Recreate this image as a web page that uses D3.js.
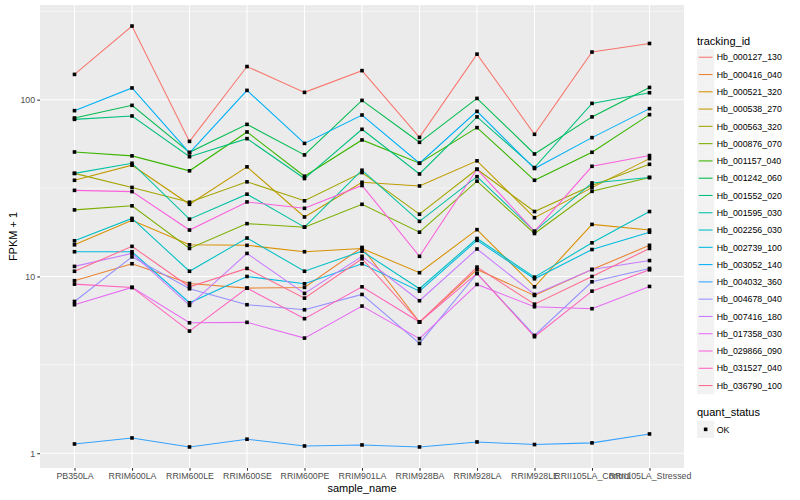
<!DOCTYPE html>
<html lang="en">
<head>
<meta charset="utf-8">
<title>FPKM + 1 by sample</title>
<script src="https://cdn.jsdelivr.net/npm/d3@7"></script>
<style>
  body { margin: 0; background: #fff; }
  text { font-family: "Liberation Sans", Arial, sans-serif; }
</style>
</head>
<body>
<script>
// data (FPKM + 1, one list per tracking_id, same order as samples)
var samples = ["PB350LA", "RRIM600LA", "RRIM600LE", "RRIM600SE", "RRIM600PE", "RRIM901LA",
               "RRIM928BA", "RRIM928LA", "RRIM928LE", "RRII105LA_Control", "RRII105LA_Stressed"];

var trackingIds = ["Hb_000127_130", "Hb_000416_040", "Hb_000521_320", "Hb_000538_270", "Hb_000563_320",
                   "Hb_000876_070", "Hb_001157_040", "Hb_001242_060", "Hb_001552_020", "Hb_001595_030",
                   "Hb_002256_030", "Hb_002739_100", "Hb_003052_140", "Hb_004032_360", "Hb_004678_040",
                   "Hb_007416_180", "Hb_017358_030", "Hb_029866_090", "Hb_031527_040", "Hb_036790_100"];

var fpkm = [
  [139, 261, 58.1, 154, 110, 146, 61.2, 181, 63.7, 186, 208],
  [9.46, 11.8, 9.13, 8.59, 8.67, 14.6, 5.52, 10.95, 7.81, 10.95, 15.0],
  [15.1, 20.8, 15.1, 15.0, 13.8, 14.4, 10.5, 18.4, 8.74, 19.7, 18.3],
  [35.0, 42.6, 25.6, 41.7, 21.7, 34.1, 32.5, 45.1, 21.5, 31.8, 46.4],
  [38.3, 31.9, 26.3, 34.3, 26.8, 38.7, 22.5, 40.4, 23.3, 32.7, 43.1],
  [23.8, 25.1, 14.4, 19.9, 19.0, 25.6, 17.8, 34.6, 17.5, 30.3, 36.3],
  [50.6, 48.1, 39.6, 65.7, 36.9, 59.2, 43.7, 69.5, 35.0, 50.4, 82.3],
  [78.8, 92.9, 50.4, 72.5, 48.7, 99.1, 57.4, 101.7, 49.3, 79.9, 117.3],
  [77.4, 80.9, 47.6, 60.2, 35.8, 68.0, 38.0, 79.9, 41.3, 95.3, 109.5],
  [38.3, 43.7, 21.1, 29.2, 19.0, 39.9, 20.5, 36.7, 18.0, 33.8, 36.3],
  [15.9, 21.3, 10.7, 16.5, 10.7, 13.9, 8.52, 16.4, 9.91, 15.5, 23.3],
  [13.8, 13.8, 7.10, 10.0, 9.09, 11.8, 8.26, 16.0, 9.70, 14.2, 17.8],
  [86.7, 116.5, 50.0, 112.9, 56.6, 81.9, 43.7, 85.9, 40.8, 61.0, 89.0],
  [1.128, 1.220, 1.085, 1.200, 1.099, 1.114, 1.085, 1.158, 1.120, 1.144, 1.285],
  [7.22, 12.9, 8.52, 6.92, 6.48, 7.91, 4.18, 10.4, 4.64, 9.33, 11.1],
  [11.4, 13.5, 6.86, 13.5, 8.02, 13.0, 7.29, 14.3, 7.91, 10.95, 12.3],
  [6.92, 8.67, 5.47, 5.50, 4.48, 6.80, 4.45, 9.01, 6.74, 6.57, 8.78],
  [30.7, 30.2, 18.3, 26.4, 24.3, 32.7, 13.0, 40.4, 18.0, 42.0, 48.3],
  [9.05, 8.67, 4.91, 8.59, 5.77, 8.74, 5.52, 10.4, 4.56, 8.26, 10.9],
  [10.7, 14.8, 8.74, 11.1, 7.54, 12.6, 5.52, 11.3, 6.97, 10.0, 14.4]
];

var yTicks = [1, 10, 100];
var yMinor = [Math.sqrt(10), Math.sqrt(1000), Math.sqrt(100000)];

// ggplot default hue palette for 20 groups
var palette = ["#F8766D", "#EA8331", "#D89000", "#C09B00", "#A3A500", "#7CAE00", "#39B600", "#00BB4E",
               "#00BF7D", "#00C1A3", "#00BFC4", "#00BAE0", "#00B0F6", "#35A2FF", "#9590FF", "#C77CFF",
               "#E76BF3", "#FA62DB", "#FF62BC", "#FF6C91"];

var w = 800, h = 500;
var margin = {left: 40, right: 116, top: 5, bottom: 32};

var svg = d3.select("body").append("svg")
    .attr("width", w)
    .attr("height", h);

var x = d3.scalePoint()
    .domain(samples)
    .range([margin.left, w - margin.right])
    .padding(0.6);

// log scale with ggplot's 5% expansion
var all = d3.merge(fpkm);
var lo = Math.log10(d3.min(all)), hi = Math.log10(d3.max(all));
var pad = (hi - lo) * 0.05;
var y = d3.scaleLog()
    .domain([Math.pow(10, lo - pad), Math.pow(10, hi + pad)])
    .range([h - margin.bottom, margin.top]);

var color = d3.scaleOrdinal().domain(trackingIds).range(palette);

// panel
svg.append("rect")
    .attr("x", margin.left)
    .attr("y", margin.top)
    .attr("width", w - margin.right - margin.left)
    .attr("height", h - margin.bottom - margin.top)
    .attr("fill", "#EBEBEB");

svg.append("g").selectAll("line")
    .data(yMinor)
    .enter().append("line")
    .attr("x1", margin.left).attr("x2", w - margin.right)
    .attr("y1", function(d) { return y(d); })
    .attr("y2", function(d) { return y(d); })
    .attr("stroke", "#fff").attr("stroke-width", 0.53);

svg.append("g").selectAll("line")
    .data(yTicks)
    .enter().append("line")
    .attr("x1", margin.left).attr("x2", w - margin.right)
    .attr("y1", function(d) { return y(d); })
    .attr("y2", function(d) { return y(d); })
    .attr("stroke", "#fff").attr("stroke-width", 1.07);

svg.append("g").selectAll("line")
    .data(samples)
    .enter().append("line")
    .attr("x1", function(d) { return x(d); })
    .attr("x2", function(d) { return x(d); })
    .attr("y1", margin.top).attr("y2", h - margin.bottom)
    .attr("stroke", "#fff").attr("stroke-width", 1.07);

// lines
var line = d3.line()
    .x(function(d, i) { return x(samples[i]); })
    .y(function(d) { return y(d); });

svg.append("g").selectAll("path")
    .data(fpkm)
    .enter().append("path")
    .attr("d", line)
    .attr("fill", "none")
    .attr("stroke", function(d, i) { return color(trackingIds[i]); })
    .attr("stroke-width", 1.07);

// points
var pts = [];
fpkm.forEach(function(s) {
    s.forEach(function(v, j) { pts.push({s: samples[j], v: v}); });
});
var ps = 3.6;
svg.append("g").selectAll("rect")
    .data(pts)
    .enter().append("rect")
    .attr("x", function(d) { return x(d.s) - ps / 2; })
    .attr("y", function(d) { return y(d.v) - ps / 2; })
    .attr("width", ps).attr("height", ps)
    .attr("fill", "#000");

// axes
var yAxis = svg.append("g")
    .attr("transform", "translate(" + margin.left + ",0)")
    .call(d3.axisLeft(y).tickValues(yTicks).tickFormat(d3.format("d")).tickSize(2.74).tickPadding(2.2));
var xAxis = svg.append("g")
    .attr("transform", "translate(0," + (h - margin.bottom) + ")")
    .call(d3.axisBottom(x).tickSize(2.74).tickPadding(2.2));

[yAxis, xAxis].forEach(function(a) {
    a.select(".domain").remove();
    a.selectAll(".tick line").attr("stroke", "#333333").attr("stroke-width", 1.07);
    a.selectAll(".tick text").attr("fill", "#4D4D4D").style("font-size", "8.8px");
});

svg.append("text")
    .attr("x", (margin.left + w - margin.right) / 2)
    .attr("y", 492)
    .attr("text-anchor", "middle")
    .style("font-size", "11px")
    .text("sample_name");

svg.append("text")
    .attr("transform", "translate(17," + ((margin.top + h - margin.bottom) / 2) + ") rotate(-90)")
    .attr("text-anchor", "middle")
    .style("font-size", "11px")
    .text("FPKM + 1");

// legend: tracking_id
var lx = 697, ly = 48.6, key = 17.28;
var legend = svg.append("g");
legend.append("text")
    .attr("x", lx).attr("y", 44.5)
    .style("font-size", "11px")
    .text("tracking_id");

var items = legend.selectAll("g.item")
    .data(trackingIds)
    .enter().append("g")
    .attr("class", "item")
    .attr("transform", function(d, i) { return "translate(" + lx + "," + (ly + i * key) + ")"; });

items.append("rect")
    .attr("width", key).attr("height", key)
    .attr("fill", "#F2F2F2");
items.append("line")
    .attr("x1", 1.7).attr("x2", key - 1.7)
    .attr("y1", key / 2).attr("y2", key / 2)
    .attr("stroke", function(d) { return color(d); })
    .attr("stroke-width", 1.07);
items.append("text")
    .attr("x", key + 2.5).attr("y", key / 2 + 3.2)
    .style("font-size", "8.8px")
    .text(function(d) { return d; });

// legend: quant_status
legend.append("text")
    .attr("x", lx).attr("y", 416.3)
    .style("font-size", "11px")
    .text("quant_status");
legend.append("rect")
    .attr("x", lx).attr("y", 420.7)
    .attr("width", key).attr("height", key)
    .attr("fill", "#F2F2F2");
legend.append("rect")
    .attr("x", lx + key / 2 - 1.8).attr("y", 420.7 + key / 2 - 1.8)
    .attr("width", 3.6).attr("height", 3.6)
    .attr("fill", "#000");
legend.append("text")
    .attr("x", lx + key + 2.5).attr("y", 420.7 + key / 2 + 3.2)
    .style("font-size", "8.8px")
    .text("OK");
</script>
</body>
</html>
